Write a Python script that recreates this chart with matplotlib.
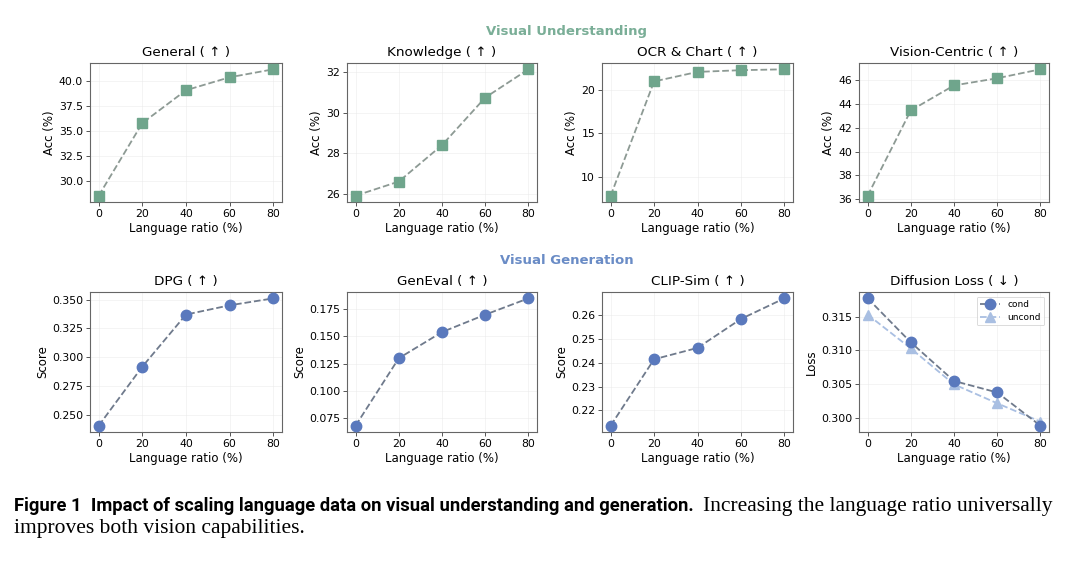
import numpy as np
import matplotlib.pyplot as plt

# language ratio (%) on the x axis, shared by every panel
ratio = [0, 20, 40, 60, 80]

general = [28.5, 35.8, 39.1, 40.4, 41.2]
knowledge = [25.9, 26.6, 28.4, 30.75, 32.15]
ocr_chart = [7.8, 21.0, 22.1, 22.3, 22.4]
vision_centric = [36.3, 43.45, 45.55, 46.15, 46.9]

dpg = [0.241, 0.292, 0.337, 0.345, 0.351]
geneval = [0.068, 0.130, 0.154, 0.170, 0.185]
clip_sim = [0.2135, 0.2415, 0.2463, 0.2585, 0.2672]
loss_cond = [0.3177, 0.3112, 0.3055, 0.3038, 0.2989]
loss_uncond = [0.3153, 0.3103, 0.3050, 0.3022, 0.2995]

# y tick labels as they appear on each panel
general_ticks = ["30.0", "32.5", "35.0", "37.5", "40.0"]
knowledge_ticks = ["26", "28", "30", "32"]
ocr_ticks = ["10", "15", "20"]
vision_ticks = ["36", "38", "40", "42", "44", "46"]
dpg_ticks = ["0.250", "0.275", "0.300", "0.325", "0.350"]
geneval_ticks = ["0.075", "0.100", "0.125", "0.150", "0.175"]
clip_ticks = ["0.22", "0.23", "0.24", "0.25", "0.26"]
loss_ticks = ["0.300", "0.305", "0.310", "0.315"]

green = "#6fa58c"
blue = "#5a79bd"
light_blue = "#a9bfe2"
line_grey = "#8d9a94"
line_blue_grey = "#6f7a8c"

W, H = 1080, 564
fig = plt.figure(figsize=(W / 100, H / 100), dpi=100)


def add_ax(x0, x1, y0, y1):
    # pixel box -> figure fraction
    return fig.add_axes([x0 / W, 1 - y1 / H, (x1 - x0) / W, (y1 - y0) / H])


def style(ax, title, ylabel, yticks):
    ax.set_title(title, fontsize=9.7, pad=5)
    ax.set_xlabel("Language ratio (%)", fontsize=8.5, labelpad=2)
    ax.set_ylabel(ylabel, fontsize=8.5, labelpad=2)
    ax.set_xticks(ratio)
    ax.set_yticks([float(t) for t in yticks], yticks)
    ax.tick_params(labelsize=7.8, length=3, width=0.7, color="#555555", pad=2)
    ax.grid(True, color="#e6e6e6", linewidth=0.5, alpha=0.6)
    ax.set_axisbelow(True)
    for s in ax.spines.values():
        s.set_color("#666666")
        s.set_linewidth(0.8)


top = [
    ("General ( ↑ )", general, general_ticks, (90, 282)),
    ("Knowledge ( ↑ )", knowledge, knowledge_ticks, (347, 537)),
    ("OCR & Chart ( ↑ )", ocr_chart, ocr_ticks, (602, 793)),
    ("Vision-Centric ( ↑ )", vision_centric, vision_ticks, (859, 1049)),
]
for title, vals, ticks, (x0, x1) in top:
    ax = add_ax(x0, x1, 63, 202)
    ax.plot(ratio, vals, linestyle="--", color=line_grey, linewidth=1.3, zorder=2)
    ax.plot(ratio, vals, linestyle="none", marker="s", markersize=7.5,
            color=green, zorder=3)
    style(ax, title, "Acc (%)", ticks)

bottom = [
    ("DPG ( ↑ )", dpg, dpg_ticks, (90, 282)),
    ("GenEval ( ↑ )", geneval, geneval_ticks, (347, 537)),
    ("CLIP-Sim ( ↑ )", clip_sim, clip_ticks, (602, 793)),
]
for title, vals, ticks, (x0, x1) in bottom:
    ax = add_ax(x0, x1, 292, 432)
    ax.plot(ratio, vals, linestyle="--", color=line_blue_grey, linewidth=1.3, zorder=2)
    ax.plot(ratio, vals, linestyle="none", marker="o", markersize=7.5,
            color=blue, zorder=3)
    style(ax, title, "Score", ticks)

ax = add_ax(859, 1049, 292, 432)
ax.plot(ratio, loss_cond, linestyle="--", color=line_blue_grey, linewidth=1.3,
        marker="o", markersize=7.5, markerfacecolor=blue, markeredgecolor=blue,
        label="cond", zorder=3)
ax.plot(ratio, loss_uncond, linestyle="--", color=light_blue, linewidth=1.3,
        marker="^", markersize=7.5, markerfacecolor=light_blue,
        markeredgecolor=light_blue, label="uncond", zorder=2)
style(ax, "Diffusion Loss ( ↓ )", "Loss", loss_ticks)
leg = ax.legend(fontsize=6.5, loc="upper right", frameon=True, handlelength=2.2,
                borderpad=0.4, labelspacing=0.4)
leg.get_frame().set_edgecolor("#cccccc")
leg.get_frame().set_linewidth(0.6)

fig.text(567 / W, 1 - 32 / H, "Visual Understanding", color="#7aae97",
         fontsize=9.5, fontweight="bold", ha="center", va="center")
fig.text(567 / W, 1 - 260 / H, "Visual Generation", color="#6a8cc6",
         fontsize=9.5, fontweight="bold", ha="center", va="center")

# caption: bold sans lead-in followed by serif body
bold = fig.text(14 / W, 1 - 506 / H,
                "Figure 1  Impact of scaling language data on visual understanding and generation.",
                fontsize=13.2, fontweight="bold", family="Roboto",
                ha="left", va="center")
r = fig.canvas.get_renderer()
bb = bold.get_window_extent(renderer=r)
fig.text((bb.x1 + 9) / W, 1 - 506 / H, "Increasing the language ratio universally",
         fontsize=15.5, family="Liberation Serif", ha="left", va="center")
fig.text(14 / W, 1 - 529 / H, "improves both vision capabilities.",
         fontsize=15.5, family="Liberation Serif", ha="left", va="center")

fig.savefig("out.png", dpi=100)
